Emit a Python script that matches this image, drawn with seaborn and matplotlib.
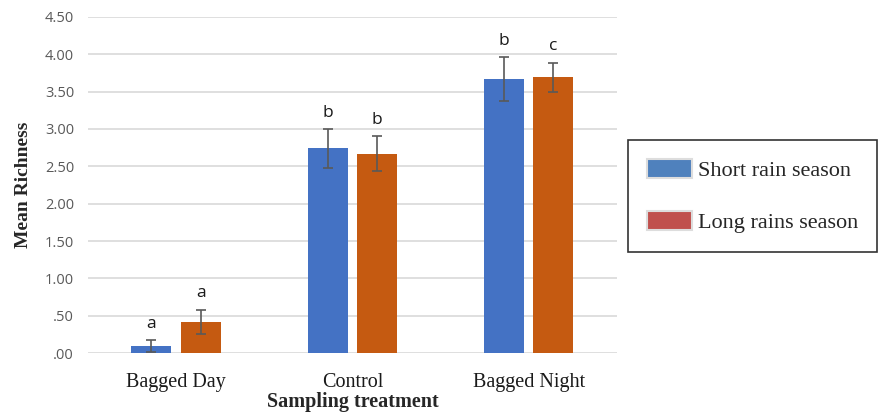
import numpy as np
import pandas as pd
import matplotlib
matplotlib.use("Agg")
import matplotlib.pyplot as plt
import seaborn as sns
from matplotlib.patches import Patch

# ---------------------------------------------------------------
# DATA
# ---------------------------------------------------------------
treatments = ["Bagged Day", "Control", "Bagged Night"]
seasons = ["Short rain season", "Long rains season"]
short_mean = [0.09, 2.74, 3.67]
short_err = [0.08, 0.26, 0.29]
long_mean = [0.42, 2.67, 3.69]
long_err = [0.16, 0.23, 0.20]
short_letters = ["a", "b", "b"]
long_letters = ["a", "b", "c"]
y_ticks = [0, 0.5, 1.0, 1.5, 2.0, 2.5, 3.0, 3.5, 4.0, 4.5]
y_ticklabels = [".00", ".50", "1.00", "1.50", "2.00", "2.50", "3.00", "3.50", "4.00", "4.50"]

df = pd.DataFrame({
    "treatment": treatments * 2,
    "season": [seasons[0]] * 3 + [seasons[1]] * 3,
    "mean": short_mean + long_mean,
})
errs = [short_err, long_err]
letters = [short_letters, long_letters]

bar_colors = ["#4472C4", "#C55A11"]
legend_colors = ["#4F81BD", "#C0504D"]

# ---------------------------------------------------------------
# PLOT
# ---------------------------------------------------------------
sns.set_style("white")
fig = plt.figure(figsize=(8.8, 4.13), dpi=100)
ax = fig.add_axes([0.1, 0.145, 0.601, 0.814])

sns.barplot(data=df, x="treatment", y="mean", hue="season", order=treatments,
            hue_order=seasons, palette=bar_colors, saturation=1, width=0.56, gap=0.19,
            errorbar=None, legend=False, ax=ax, edgecolor="none", zorder=2)

# error bars + significance letters
for cont, err, lets in zip(ax.containers, errs, letters):
    for bar, e, lab in zip(cont, err, lets):
        xc = bar.get_x() + bar.get_width() / 2
        h = bar.get_height()
        ax.errorbar(xc, h, yerr=e, color="#595959", capsize=3.5, elinewidth=1.2,
                    capthick=1.2, zorder=3)
        ax.annotate(lab, (xc, h + e), xytext=(0, 6), textcoords="offset points",
                    ha="center", va="bottom", fontsize=12.5, family="Open Sans",
                    color="#1a1a1a")

ax.set_xlim(-0.5, 2.5)
ax.set_ylim(0, 4.5)
ax.set_yticks(y_ticks)
ax.set_yticklabels(y_ticklabels, family="Open Sans", fontsize=10.5, color="#595959")
ax.set_xticks(range(len(treatments)))
ax.set_xticklabels(treatments, family="Liberation Serif", fontsize=14.5, color="#1a1a1a")
ax.tick_params(axis="y", length=0, pad=10)
ax.tick_params(axis="x", length=0, pad=14)
ax.yaxis.grid(True, color="#d9d9d9", linewidth=1.2, zorder=0)
ax.set_axisbelow(True)
for s in ax.spines.values():
    s.set_visible(False)

ax.set_xlabel("Sampling treatment", family="Liberation Serif", fontsize=14.5,
              fontweight="bold", labelpad=0)
ax.set_ylabel("Mean Richness", family="Liberation Serif", fontsize=14,
              fontweight="bold", labelpad=9)

handles = [Patch(facecolor=c, edgecolor="#dddddd", linewidth=1.5) for c in legend_colors]
leg = fig.legend(handles, seasons, loc="center left", bbox_to_anchor=(0.714, 0.525),
                 prop={"family": "Liberation Serif", "size": 16}, frameon=True,
                 fancybox=False, edgecolor="black", borderpad=0.85, labelspacing=1.35,
                 handlelength=2.0, handleheight=0.9, handletextpad=0.3,
                 borderaxespad=0)
leg.get_frame().set_linewidth(1.2)

fig.savefig("out.png", dpi=100)
